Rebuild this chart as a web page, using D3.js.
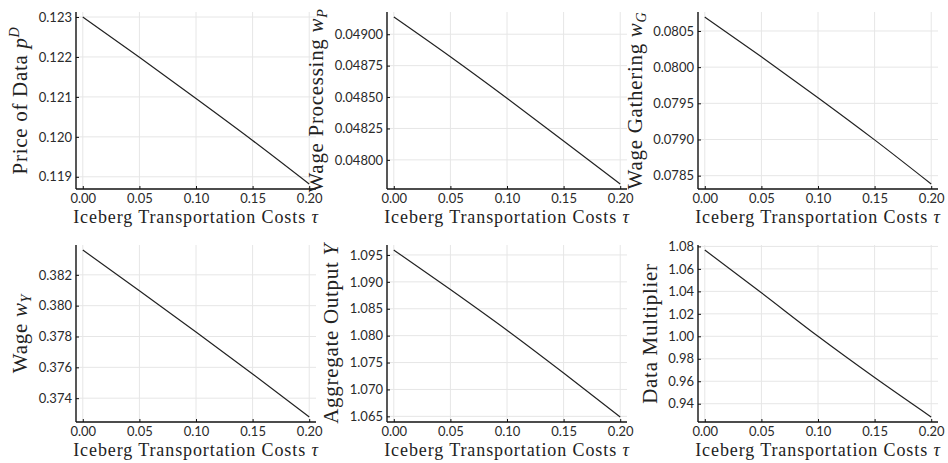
<!DOCTYPE html>
<html>
<head>
<meta charset="utf-8">
<script src="https://cdn.jsdelivr.net/npm/d3@7"></script>
<style>
  body { margin: 0; background: #fff; }
  .tick text { font-family: Lato, "Open Sans", sans-serif; }
</style>
</head>
<body>
<script>
// transport cost grid (x axis)
var tau = [0, 0.05, 0.10, 0.15, 0.20];
var xTicks = [0, 0.05, 0.10, 0.15, 0.20];

// series
var priceData = [0.12300, 0.12199, 0.12096, 0.11991, 0.11882];
var wageProcessing = [0.049137, 0.04882, 0.04849, 0.04815, 0.047808];
var wageGathering = [0.080693, 0.080143, 0.079578, 0.078995, 0.078385];
var wageFinal = [0.38361, 0.38097, 0.37829, 0.37557, 0.37278];
var aggOutput = [1.09592, 1.08857, 1.0810, 1.07305, 1.06488];
var dataMultiplier = [1.0768, 1.0387, 1.0000, 0.9633, 0.9282];

// y tick values
var priceTicks = [0.119, 0.120, 0.121, 0.122, 0.123];
var procTicks = [0.04800, 0.04825, 0.04850, 0.04875, 0.04900];
var gathTicks = [0.0785, 0.0790, 0.0795, 0.0800, 0.0805];
var finalTicks = [0.374, 0.376, 0.378, 0.380, 0.382];
var outputTicks = [1.065, 1.070, 1.075, 1.080, 1.085, 1.090, 1.095];
var multTicks = [0.94, 0.96, 0.98, 1.00, 1.02, 1.04, 1.06, 1.08];

// y labels: pieces of [text, style]  style: "" normal, "i" italic, "sup", "sub"
var panels = [
  { values: priceData, ticks: priceTicks, fmt: ".3f",
    label: [["Price of Data ", ""], ["p", "i"], ["D", "sup"]] },
  { values: wageProcessing, ticks: procTicks, fmt: ".5f",
    label: [["Wage Processing ", ""], ["w", "i"], ["P", "sub"]] },
  { values: wageGathering, ticks: gathTicks, fmt: ".4f",
    label: [["Wage Gathering ", ""], ["w", "i"], ["G", "sub"]] },
  { values: wageFinal, ticks: finalTicks, fmt: ".3f",
    label: [["Wage ", ""], ["w", "i"], ["Y", "sub"]] },
  { values: aggOutput, ticks: outputTicks, fmt: ".3f",
    label: [["Aggregate Output ", ""], ["Y", "i"]] },
  { values: dataMultiplier, ticks: multTicks, fmt: ".2f",
    label: [["Data Multiplier", ""]] }
];

var W = 948, H = 463;
var colLeft = [76, 387, 698], rowTop = [12, 245];
var pw = 240, ph = 177;
var serif = "'Liberation Serif', 'DejaVu Serif', serif";

var svg = d3.select("body").append("svg")
    .attr("width", W)
    .attr("height", H);

function padded(ext) {
    var p = (ext[1] - ext[0]) * 0.03;
    return [ext[0] - p, ext[1] + p];
}

function addMath(text, parts, small) {
    parts.forEach(function(pt) {
        var t = text.append("tspan").text(pt[0]);
        if (pt[1] == "i") t.style("font-style", "italic");
        if (pt[1] == "sup") t.style("font-style", "italic").attr("font-size", small).attr("dy", "-8");
        if (pt[1] == "sub") t.style("font-style", "italic").attr("font-size", small).attr("dy", "4");
    });
}

panels.forEach(function(p, i) {
    var left = colLeft[i % 3], top = rowTop[Math.floor(i / 3)];
    var g = svg.append("g").attr("transform", "translate(" + left + "," + top + ")");

    var x = d3.scaleLinear().domain(padded([0, 0.2])).range([0, pw]);
    var y = d3.scaleLinear().domain(padded(d3.extent(p.values))).range([ph, 0]);

    // grid
    g.append("g").selectAll("line.vg").data(xTicks).join("line")
        .attr("x1", d => x(d)).attr("x2", d => x(d))
        .attr("y1", 0).attr("y2", ph)
        .attr("stroke", "#e6e6e6").attr("stroke-width", 1);
    g.append("g").selectAll("line.hg").data(p.ticks).join("line")
        .attr("x1", 0).attr("x2", pw)
        .attr("y1", d => y(d)).attr("y2", d => y(d))
        .attr("stroke", "#e6e6e6").attr("stroke-width", 1);

    // axes (ticks point inward)
    var xa = g.append("g").attr("transform", "translate(0," + ph + ")")
        .call(d3.axisBottom(x).tickValues(xTicks).tickFormat(d3.format(".2f"))
            .tickSizeInner(-3).tickSizeOuter(0).tickPadding(5));
    var ya = g.append("g")
        .call(d3.axisLeft(y).tickValues(p.ticks).tickFormat(d3.format(p.fmt))
            .tickSizeInner(-3).tickSizeOuter(0).tickPadding(4));
    [xa, ya].forEach(function(a) {
        a.select(".domain").attr("stroke", "#111").attr("stroke-width", 1.4);
        a.selectAll(".tick line").attr("stroke", "#111");
        a.selectAll(".tick text").attr("font-size", "13px").attr("fill", "#2a2a2a");
    });
    xa.select(".domain").attr("d", "M0,0H" + pw);
    ya.select(".domain").attr("d", "M0,0V" + ph);

    // series
    var line = d3.line()
        .x((d, k) => x(tau[k]))
        .y(d => y(d))
        .curve(d3.curveMonotoneX);
    g.append("path").datum(p.values)
        .attr("d", line)
        .attr("fill", "none")
        .attr("stroke", "#222")
        .attr("stroke-width", 1.2);

    // x label
    var xl = g.append("text")
        .attr("x", pw / 2).attr("y", ph + 34)
        .attr("text-anchor", "middle")
        .attr("font-family", serif).attr("font-size", "18px")
        .attr("letter-spacing", "0.9px")
        .attr("fill", "#222");
    addMath(xl, [["Iceberg Transportation Costs ", ""], ["\u03c4", "i"]], "13px");

    // y label, placed left of the widest tick label
    var maxW = 0;
    ya.selectAll(".tick text").each(function() {
        maxW = Math.max(maxW, this.getBBox().width);
    });
    var lx = -7 - maxW - 8;
    var yl = g.append("text")
        .attr("transform", "translate(" + lx + "," + (ph / 2) + ") rotate(-90)")
        .attr("text-anchor", "middle")
        .attr("font-family", serif).attr("font-size", "21px")
        .attr("letter-spacing", "0.7px")
        .attr("fill", "#222");
    addMath(yl, p.label, "14px");
});
</script>
</body>
</html>
